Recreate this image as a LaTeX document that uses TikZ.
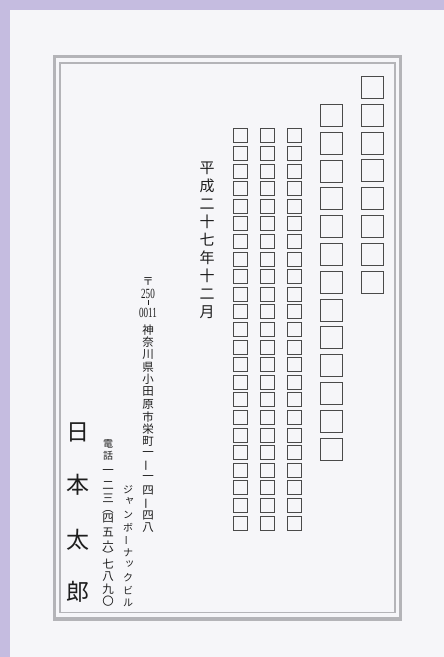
\documentclass[tikz,border=0pt]{standalone}
\usepackage{fontspec}
\setmainfont{Liberation Serif}
\newfontfamily\jp{Noto Sans CJK JP}
\definecolor{lav}{HTML}{C5BCE0}
\definecolor{card}{HTML}{F6F6F9}
\definecolor{framegray}{HTML}{B4B4B8}
\definecolor{boxgray}{HTML}{4A4A4A}
\definecolor{ink}{HTML}{1E1E1E}
\begin{document}
\begin{tikzpicture}[x=1pt,y=-1pt,
  bigbox/.style={draw=boxgray, line width=0.9pt, minimum size=22pt, inner sep=0pt, anchor=north west},
  smallbox/.style={draw=boxgray, line width=0.8pt, minimum size=14pt, inner sep=0pt, anchor=north west},
  vt/.style={inner sep=0pt, text=ink},
  jpA/.style={vt, font=\jp\fontsize{15}{15}\selectfont},
  jpB/.style={vt, font=\jp\fontsize{11.5}{11.5}\selectfont},
  jpC/.style={vt, font=\jp\fontsize{10}{10}\selectfont},
  jpD/.style={vt, font=\jp\fontsize{23}{23}\selectfont},
  num/.style={vt, font=\fontsize{14}{14}\selectfont}]
\fill[card] (0,0) rectangle (444,657);
\fill[lav] (0,0) rectangle (444,10);
\fill[lav] (0,0) rectangle (10,657);
\useasboundingbox (0,0) rectangle (444,657);
% frame
\draw[framegray, line width=3.5pt] (54.5,56.5) rectangle (400.5,619);
\draw[framegray, line width=1.3pt] (60,63) rectangle (395,612.5);
% boxes
\foreach \k in {0,...,7} \node[bigbox] (a\k) at (361,{76+\k*27.8}) {};
\foreach \k in {0,...,12} \node[bigbox] (b\k) at (320,{104+\k*27.8}) {};
\foreach \col/\x in {c/287,d/260,e/233}
  \foreach \k in {0,...,22} \node[smallbox] (\col\k) at (\x,{128.3+\k*17.6}) {};
% date
\foreach \ch [count=\i from 0] in {平,成,二,十,七,年,十,二,月}
  \node[jpA] (t\i) at (207,{168+\i*18}) {\ch};
% postal code
\node[vt, font=\jp\fontsize{11}{11}\selectfont] (pz) at (148,282) {〒};
\node[num] (p1) at (148,293.5) {\scalebox{0.65}[1]{250}};
\node[vt] (p2) at (148,302.5) {\rule{0.5pt}{4.5pt}};
\node[num] (p3) at (148,312.5) {\scalebox{0.65}[1]{0011}};
% address
\foreach \ch/\r [count=\i from 0] in {神/0,奈/0,川/0,県/0,小/0,田/0,原/0,市/0,栄/0,町/0,一/0,ー/90,一/0,四/0,ー/90,四/0,八/0}
  \node[jpB, rotate=\r] (ad\i) at (148,{330+\i*12.375}) {\ch};
% building
\foreach \ch/\r/\dx/\dy [count=\i from 0] in {ジ/0/0/0,ャ/0/1.5/-1.5,ン/0/0/0,ボ/0/0/0,ー/90/0/0,ナ/0/0/0,ッ/0/1.5/-1.5,ク/0/0/0,ビ/0/0/0,ル/0/0/0}
  \node[jpC, rotate=\r] (bd\i) at ({128+\dx},{490+\i*12.55+\dy}) {\ch};
% phone
\node[jpC] (tel1) at (108,444) {電};
\node[jpC] (tel2) at (108,456) {話};
\foreach \ch/\r/\y [count=\i from 0] in {一/0/472,二/0/485,三/0/498,（/-90/508.5,四/0/518,五/0/532,六/0/546,）/-90/555.5,七/0/564,八/0/577,九/0/589,〇/0/601}
  \node[jpB, rotate=\r] (ph\i) at (108,\y) {\ch};
% name
\foreach \ch/\y [count=\i from 0] in {日/432,本/485,太/540,郎/592}
  \node[jpD] (nm\i) at (78,\y) {\ch};
\end{tikzpicture}
\end{document}
